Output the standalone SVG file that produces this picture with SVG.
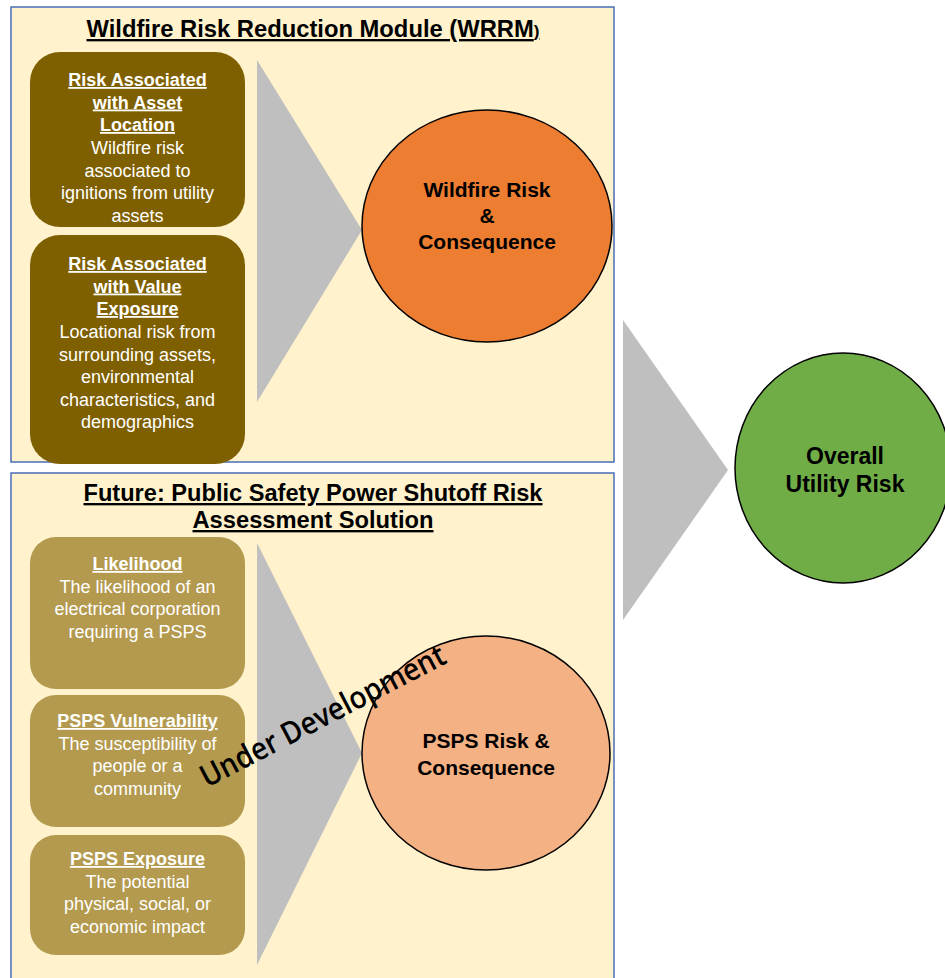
<svg xmlns="http://www.w3.org/2000/svg" width="945" height="978" viewBox="0 0 945 978">
<style>
.panel{fill:#FFF2CC;stroke:#4A6EB8;stroke-width:1.5}
.arrow{fill:#BFBFBF}
.dark{fill:#7F6000}
.tan{fill:#B39A4E}
.t{font-family:"Liberation Sans",Arial,sans-serif;text-anchor:middle}
.bt{font-size:18px;fill:#fff}
.h{font-weight:bold;text-decoration:underline}
.title{font-size:23.5px;font-weight:bold;fill:#000;text-decoration:underline}
.ct{font-size:21px;font-weight:bold;fill:#000}
.circ{stroke:#000;stroke-width:1.5}
</style>
<rect x="0" y="0" width="945" height="978" fill="#fff"/>
<g id="panel-wrrm">
<rect class="panel" x="11" y="7" width="603" height="455"/>
<text class="t title" x="313" y="37" textLength="453" lengthAdjust="spacingAndGlyphs">Wildfire Risk Reduction Module (WRRM<tspan font-size="17">)</tspan></text>
</g>
<g id="panel-psps">
<rect class="panel" x="11" y="473" width="603" height="515"/>
<text class="t title" x="313" y="501" textLength="459" lengthAdjust="spacingAndGlyphs">Future: Public Safety Power Shutoff Risk</text>
<text class="t title" x="313" y="528" textLength="241" lengthAdjust="spacingAndGlyphs">Assessment Solution</text>
</g>
<g id="connectors">
<polygon class="arrow" points="257,60 362,230 257,402"/>
<polygon class="arrow" points="257,543 362,753 257,965"/>
<polygon class="arrow" points="623,320 728,470 623,620"/>
</g>
<g id="box-asset-location">
<rect class="dark" x="30" y="52" width="215" height="175" rx="30"/>
<text class="t bt h" x="137.5" y="86">Risk Associated</text>
<text class="t bt h" x="137.5" y="108.5">with Asset</text>
<text class="t bt h" x="137.5" y="131">Location</text>
<text class="t bt" x="137.5" y="154">Wildfire risk</text>
<text class="t bt" x="137.5" y="176.5">associated to</text>
<text class="t bt" x="137.5" y="199">ignitions from utility</text>
<text class="t bt" x="137.5" y="221.5">assets</text>
</g>
<g id="box-value-exposure">
<rect class="dark" x="30" y="235" width="215" height="229" rx="30"/>
<text class="t bt h" x="137.5" y="270">Risk Associated</text>
<text class="t bt h" x="137.5" y="292.5">with Value</text>
<text class="t bt h" x="137.5" y="315">Exposure</text>
<text class="t bt" x="137.5" y="338">Locational risk from</text>
<text class="t bt" x="137.5" y="360.5">surrounding  assets,</text>
<text class="t bt" x="137.5" y="383">environmental</text>
<text class="t bt" x="137.5" y="405.5">characteristics, and</text>
<text class="t bt" x="137.5" y="428">demographics</text>
</g>
<g id="node-wildfire-risk">
<ellipse class="circ" cx="487" cy="226" rx="125" ry="116" fill="#ED7D31"/>
<text class="t ct" x="487" y="197">Wildfire Risk</text>
<text class="t ct" x="487" y="223">&amp;</text>
<text class="t ct" x="487" y="249">Consequence</text>
</g>
<g id="box-likelihood">
<rect class="tan" x="30" y="537" width="215" height="152" rx="26"/>
<text class="t bt h" x="137.5" y="570">Likelihood</text>
<text class="t bt" x="137.5" y="592.5">The likelihood  of an</text>
<text class="t bt" x="137.5" y="615">electrical  corporation</text>
<text class="t bt" x="137.5" y="637.5">requiring  a PSPS</text>
</g>
<g id="box-vulnerability">
<rect class="tan" x="30" y="695" width="215" height="132" rx="26"/>
<text class="t bt h" x="137.5" y="727">PSPS Vulnerability</text>
<text class="t bt" x="137.5" y="749.5">The susceptibility  of</text>
<text class="t bt" x="137.5" y="772">people or a</text>
<text class="t bt" x="137.5" y="794.5">community</text>
</g>
<g id="box-exposure">
<rect class="tan" x="30" y="835" width="215" height="120" rx="26"/>
<text class="t bt h" x="137.5" y="865">PSPS Exposure</text>
<text class="t bt" x="137.5" y="887.5">The potential</text>
<text class="t bt" x="137.5" y="910">physical, social, or</text>
<text class="t bt" x="137.5" y="932.5">economic impact</text>
</g>
<g id="node-psps-risk">
<ellipse class="circ" cx="486" cy="753" rx="124" ry="117" fill="#F4B183"/>
<text class="t ct" x="486" y="748">PSPS Risk &amp;</text>
<text class="t ct" x="486" y="775">Consequence</text>
</g>
<g id="label-under-development">
<text x="207" y="788" transform="rotate(-27.5 207 788)" font-family="'Open Sans','DejaVu Sans',sans-serif" font-weight="600" font-size="31" fill="#000" textLength="272" lengthAdjust="spacingAndGlyphs">Under Development</text>
</g>
<g id="node-overall">
<ellipse class="circ" cx="843" cy="468" rx="108" ry="115" fill="#70AD47"/>
<text class="t" x="845" y="464" font-size="23" font-weight="bold" fill="#000">Overall</text>
<text class="t" x="845" y="492" font-size="23" font-weight="bold" fill="#000">Utility Risk</text>
</g>
</svg>
